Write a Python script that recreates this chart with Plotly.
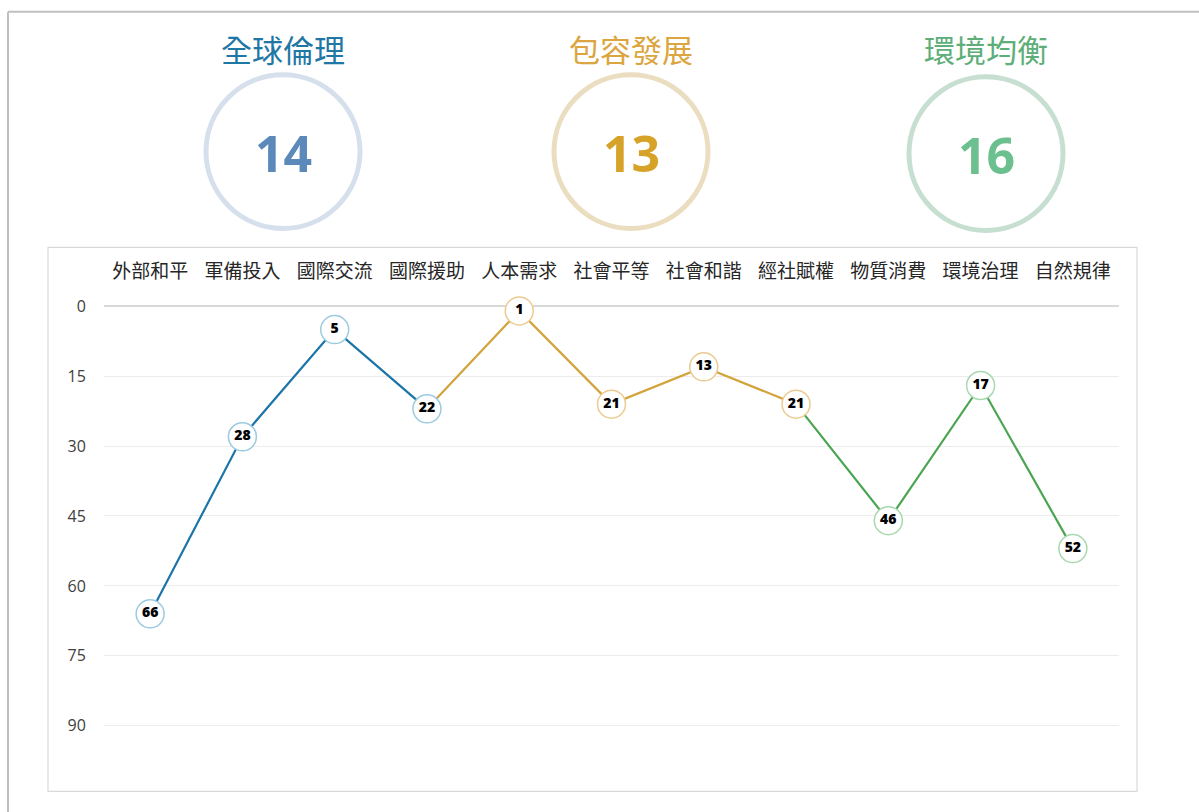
import plotly.graph_objects as go

# ---- data ----
categories = ["外部和平", "軍備投入", "國際交流", "國際援助", "人本需求", "社會平等",
              "社會和諧", "經社賦權", "物質消費", "環境治理", "自然規律"]
ranks = [66, 28, 5, 22, 1, 21, 13, 21, 46, 17, 52]
group_names = ["全球倫理", "包容發展", "環境均衡"]
group_scores = [14, 13, 16]
# index ranges (start, end) of each group's markers
group_marker_idx = [(0, 3), (4, 7), (8, 10)]
# index ranges of each group's line segments
group_line_idx = [(0, 3), (3, 7), (7, 10)]
y_ticks = [0, 15, 30, 45, 60, 75, 90]

# ---- styles ----
line_colors = ["#1C75A8", "#D3A33C", "#4AA550"]
marker_edge = ["#9CCBE0", "#EBCB90", "#A8D8AE"]
title_colors = ["#1F77A6", "#DBA53F", "#5DAE78"]
number_colors = ["#5B89B9", "#D6A227", "#6CBF8E"]
ring_colors = ["#D6E0EC", "#EBDDBF", "#C6DFD1"]
ring_cx = [283, 631, 986]
ring_cy = [150, 150, 152]
ring_r = 77

W, H = 1199, 812
# the page is photographed with a small vertical offset/scale; compensate
Y_OFF, Y_SCALE = 9.13, 0.98846


def px(x):
    return x / W


def py(y):
    return 1 - ((y - Y_OFF) / Y_SCALE) / H


fig = go.Figure()

for g in range(3):
    a, b = group_line_idx[g]
    fig.add_trace(go.Scatter(
        x=categories[a:b + 1], y=ranks[a:b + 1], mode="lines",
        line=dict(color=line_colors[g], width=2.2), hoverinfo="skip",
        showlegend=False, cliponaxis=False))

for g in range(3):
    a, b = group_marker_idx[g]
    fig.add_trace(go.Scatter(
        x=categories[a:b + 1], y=ranks[a:b + 1], mode="markers+text",
        text=[str(v) for v in ranks[a:b + 1]], textposition="middle center",
        textfont=dict(family="Open Sans", size=14, color="#000000", weight=800),
        marker=dict(size=28, color="white", line=dict(color=marker_edge[g], width=1.5)),
        showlegend=False, cliponaxis=False))

shapes = []
# outer frame
shapes.append(dict(type="line", xref="paper", yref="paper", x0=px(8), x1=px(1199),
                   y0=py(10), y1=py(10), line=dict(color="#c0c0c0", width=2)))
shapes.append(dict(type="line", xref="paper", yref="paper", x0=px(8), x1=px(8),
                   y0=py(10), y1=py(812), line=dict(color="#c0c0c0", width=2)))
# chart box
shapes.append(dict(type="rect", xref="paper", yref="paper", x0=px(48), x1=px(1137),
                   y0=py(791), y1=py(246), line=dict(color="#d9d9d9", width=1.2),
                   layer="below"))
annotations = []
for g in range(3):
    cx, cy = ring_cx[g], ring_cy[g]
    shapes.append(dict(type="circle", xref="paper", yref="paper",
                       x0=px(cx - ring_r), x1=px(cx + ring_r),
                       y0=py(cy + ring_r), y1=py(cy - ring_r),
                       line=dict(color=ring_colors[g], width=5)))
    annotations.append(dict(xref="paper", yref="paper", x=px(cx), y=py(47),
                            text=group_names[g], showarrow=False,
                            font=dict(family="Noto Sans CJK TC", size=31, color=title_colors[g]),
                            xanchor="center", yanchor="middle"))
    annotations.append(dict(xref="paper", yref="paper", x=px(cx), y=py(cy + 1),
                            text=str(group_scores[g]), showarrow=False,
                            font=dict(family="Open Sans", size=50, color=number_colors[g],
                                      weight="bold"),
                            xanchor="center", yanchor="middle"))

fig.update_layout(
    width=W, height=H,
    margin=dict(l=0, r=0, t=0, b=0),
    paper_bgcolor="white", plot_bgcolor="white",
    shapes=shapes, annotations=annotations,
    xaxis=dict(domain=[px(104), px(1119)], side="top", type="category",
               categoryorder="array", categoryarray=categories,
               range=[-0.5, len(categories) - 0.5],
               showgrid=False, zeroline=False, showline=False,
               ticks="outside", ticklen=20, tickcolor="rgba(0,0,0,0)",
               tickfont=dict(family="Noto Sans CJK TC", size=19, color="#262626")),
    yaxis=dict(domain=[py(772), py(305)], range=[100, 0], tickvals=y_ticks,
               showgrid=True, gridcolor="#ececec", gridwidth=1,
               zeroline=True, zerolinecolor="#d9d9d9", zerolinewidth=2,
               showline=False, ticks="outside", ticklen=14, tickcolor="rgba(0,0,0,0)",
               tickfont=dict(family="Open Sans", size=16, color="#404040")),
)

post = ("document.documentElement.style.margin='0';"
        "document.body.style.margin='0';document.body.style.padding='0';"
        "document.documentElement.style.overflow='hidden';"
        "var d=document.getElementById('{plot_id}');"
        "d.style.position='absolute';d.style.top='0px';d.style.left='0px';")

fig.write_html("out.html", config={"displayModeBar": False}, post_script=post)
